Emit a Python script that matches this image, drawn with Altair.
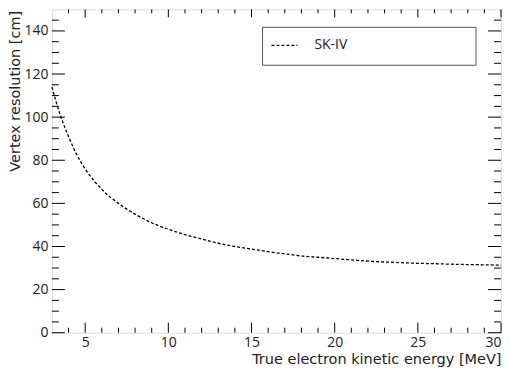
import altair as alt
import pandas as pd

# curve data
energy = [3, 3.5, 4, 4.5, 5, 6, 7, 8, 9, 10, 11, 12, 13, 14, 15, 16, 17, 18, 19, 20,
          21, 22, 23, 24, 25, 26, 27, 28, 29, 30]
resolution = [114, 101, 91, 82.5, 76, 66.5, 60, 55, 51, 48, 45.5, 43.5, 41.5, 40, 38.8,
              37.6, 36.6, 35.6, 35, 34.4, 33.8, 33.2, 32.8, 32.5, 32.2, 32, 31.8, 31.6, 31.5, 31.3]

x_major = [5, 10, 15, 20, 25, 30]
x_minor = [v for v in range(4, 30) if v % 5 != 0]
y_major = [0, 20, 40, 60, 80, 100, 120, 140]
y_minor = [v for v in range(5, 150, 5) if v % 20 != 0]

series_name = "SK-IV"
x_title = "True electron kinetic energy [MeV]"
y_title = "Vertex resolution [cm]"

W, H = 450, 324
FONT = "Open Sans"
TFONT = "DejaVu Sans"
TXT = "#222222"

df = pd.DataFrame({"E": energy, "R": resolution})
xs = alt.Scale(domain=[3, 30], nice=False, zero=False)
ys = alt.Scale(domain=[0, 150], nice=False)

xaxis = alt.Axis(values=x_major, tickSize=0, domain=False, grid=False, labelPadding=3,
                 labelFontSize=14, labelFont=FONT, labelColor=TXT, title=x_title,
                 titleFont=TFONT, titleFontSize=14.5, titleFontWeight="normal", titleColor=TXT,
                 titleX=W, titleY=27, titleAlign="right", titleBaseline="middle",
                 titleAnchor="end")
yaxis = alt.Axis(values=y_major, tickSize=0, domain=False, grid=False, labelPadding=4,
                 labelFontSize=14, labelFont=FONT, labelColor=TXT, title=y_title,
                 titleFont=TFONT, titleFontSize=14.5, titleFontWeight="normal", titleColor=TXT,
                 titleX=-36, titleY=1, titleAlign="right", titleBaseline="middle",
                 titleAngle=-90, titleAnchor="end")

curve = alt.Chart(df).mark_line(color="black", strokeWidth=1.3, strokeDash=[3, 2],
                                interpolate="monotone").encode(
    x=alt.X("E:Q", scale=xs, axis=xaxis),
    y=alt.Y("R:Q", scale=ys, axis=yaxis),
)

def xticks(vals, length):
    d = pd.DataFrame({"t": vals})
    bottom = alt.Chart(d).mark_rule(color="black", strokeWidth=1).encode(
        x=alt.X("t:Q", scale=xs), y=alt.value(H), y2=alt.value(H - length))
    top = alt.Chart(d).mark_rule(color="black", strokeWidth=1).encode(
        x=alt.X("t:Q", scale=xs), y=alt.value(0), y2=alt.value(length * 0.8))
    return [bottom, top]

def yticks(vals, length):
    d = pd.DataFrame({"t": vals})
    left = alt.Chart(d).mark_rule(color="black", strokeWidth=1).encode(
        y=alt.Y("t:Q", scale=ys), x=alt.value(0), x2=alt.value(length))
    right = alt.Chart(d).mark_rule(color="black", strokeWidth=1).encode(
        y=alt.Y("t:Q", scale=ys), x=alt.value(W), x2=alt.value(W - length))
    return [left, right]

ticks = xticks(x_major, 10) + xticks(x_minor, 5) + yticks(y_major, 13) + yticks(y_minor, 7)

leg = pd.DataFrame({"name": [series_name]})
box = alt.Chart(leg).mark_rect(fill="white", stroke="#555555", strokeWidth=1).encode(
    x=alt.value(211), x2=alt.value(425), y=alt.value(18), y2=alt.value(56))
sample = alt.Chart(leg).mark_rule(color="black", strokeWidth=1.3, strokeDash=[3, 2]).encode(
    x=alt.value(220), x2=alt.value(246), y=alt.value(36))
label = alt.Chart(leg).mark_text(align="left", baseline="middle", font=FONT, fontSize=14,
                                 color=TXT).encode(
    x=alt.value(263), y=alt.value(36), text="name:N")

chart = alt.layer(curve, *ticks, box, sample, label).properties(
    width=W, height=H,
    autosize=alt.AutoSizeParams(type="none"),
    padding={"left": 44, "top": 1, "right": 2, "bottom": 40},
).configure_view(stroke="black", strokeWidth=1).configure(background="white")

chart.save("out.html", embed_options={"renderer": "svg", "actions": False})
